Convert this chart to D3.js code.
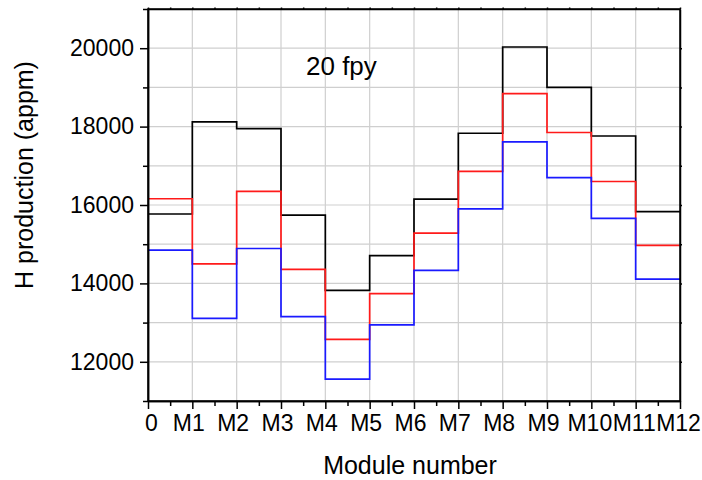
<!DOCTYPE html>
<html>
<head>
<meta charset="utf-8">
<script src="https://cdn.jsdelivr.net/npm/d3@7"></script>
<style>
  html, body { margin: 0; padding: 0; background: #fff; }
  svg { display: block; font-family: "Liberation Sans", Arial, sans-serif; }
</style>
</head>
<body>
<svg id="chart" width="702" height="480"></svg>
<script>
// Module boundaries and tick labels
const xTickLabels = ["0", "M1", "M2", "M3", "M4", "M5", "M6", "M7", "M8", "M9", "M10", "M11", "M12"];
const modules = ["M1", "M2", "M3", "M4", "M5", "M6", "M7", "M8", "M9", "M10", "M11", "M12"];

// H production (appm) per module, 20 fpy
const blackSeries = [15770, 18120, 17950, 15740, 13820, 14710, 16150, 17830, 20030, 19000, 17760, 15830];
const redSeries   = [16160, 14500, 16350, 14360, 12570, 13740, 15280, 16860, 18840, 17850, 16600, 14970];
const blueSeries  = [14850, 13110, 14890, 13150, 11560, 12940, 14330, 15900, 17610, 16700, 15660, 14110];

const yMajorTicks = [12000, 14000, 16000, 18000, 20000];
const yMinorTicks = [11000, 13000, 15000, 17000, 19000, 21000];
const yGridTicks  = [12000, 13000, 14000, 15000, 16000, 17000, 18000, 19000, 20000];

const seriesList = [
  { name: "black", values: blackSeries, color: "#000000" },
  { name: "red",   values: redSeries,   color: "#ff1a1a" },
  { name: "blue",  values: blueSeries,  color: "#1a1aff" }
];

const svg = d3.select("#chart");
const L = 148, R = 680, T = 9, B = 401;

const x = d3.scaleLinear().domain([0, 12]).range([L, R]);
const y = d3.scaleLinear().domain([11000, 21000]).range([B, T]);

// Grid
const grid = svg.append("g");
grid.selectAll("line.v").data(d3.range(1, 12)).join("line")
  .attr("x1", d => x(d)).attr("x2", d => x(d))
  .attr("y1", T).attr("y2", B)
  .attr("stroke", "#cfcfcf").attr("stroke-width", 1.2);
grid.selectAll("line.h").data(yGridTicks).join("line")
  .attr("x1", L).attr("x2", R)
  .attr("y1", d => y(d)).attr("y2", d => y(d))
  .attr("stroke", "#cfcfcf").attr("stroke-width", 1.2);

// Step lines
const line = d3.line()
  .x(d => x(d.i))
  .y(d => y(d.v))
  .curve(d3.curveStepAfter);

seriesList.forEach(s => {
  const pts = s.values.map((v, i) => ({ i, v }));
  pts.push({ i: s.values.length, v: s.values[s.values.length - 1] });
  svg.append("path")
    .datum(pts)
    .attr("d", line)
    .attr("fill", "none")
    .attr("stroke", s.color)
    .attr("stroke-width", 1.7);
});

// Frame
svg.append("rect")
  .attr("x", L).attr("y", T).attr("width", R - L).attr("height", B - T)
  .attr("fill", "none").attr("stroke", "#000").attr("stroke-width", 1.5);

// Bottom axis (major)
const xAxis = svg.append("g").attr("transform", `translate(0,${B})`)
  .call(d3.axisBottom(x).tickValues(d3.range(0, 13)).tickFormat(i => xTickLabels[i])
    .tickSize(8).tickSizeOuter(0).tickPadding(6));
xAxis.selectAll("text")
  .attr("font-size", 23).attr("fill", "#000")
  .attr("font-family", "'Liberation Sans', Arial, sans-serif")
  .attr("dx", (d) => d === 0 ? 3 : (d >= 10 ? -2 : -4));
// Bottom minor ticks
svg.append("g").attr("transform", `translate(0,${B})`)
  .call(d3.axisBottom(x).tickValues(d3.range(0.5, 12, 1)).tickFormat("").tickSize(5).tickSizeOuter(0));

// Left axis (major)
const yAxis = svg.append("g").attr("transform", `translate(${L},0)`)
  .call(d3.axisLeft(y).tickValues(yMajorTicks).tickFormat(d3.format("d"))
    .tickSize(8).tickSizeOuter(0).tickPadding(6));
yAxis.selectAll("text")
  .attr("font-size", 23).attr("fill", "#000")
  .attr("font-family", "'Liberation Sans', Arial, sans-serif");
svg.append("g").attr("transform", `translate(${L},0)`)
  .call(d3.axisLeft(y).tickValues(yMinorTicks).tickFormat("").tickSize(5).tickSizeOuter(0));

// Right axis small ticks
svg.append("g").attr("transform", `translate(${R},0)`)
  .call(d3.axisRight(y).tickValues(yGridTicks).tickFormat("").tickSize(2).tickSizeOuter(0));
// Top axis small ticks
svg.append("g").attr("transform", `translate(0,${T})`)
  .call(d3.axisTop(x).tickValues(d3.range(0, 12.5, 0.5)).tickFormat("").tickSize(1.5).tickSizeOuter(0));

svg.selectAll(".domain").attr("stroke", "#000").attr("stroke-width", 1.5);
svg.selectAll(".tick line").attr("stroke", "#000").attr("stroke-width", 1.5);

// Annotation
svg.append("text")
  .attr("x", 306).attr("y", 75)
  .attr("font-size", 26).attr("fill", "#000")
  .text("20 fpy");

// Axis titles
svg.append("text")
  .attr("x", (L + R) / 2 - 4).attr("y", 474)
  .attr("text-anchor", "middle")
  .attr("font-size", 25).attr("fill", "#000")
  .text("Module number");

svg.append("text")
  .attr("transform", `translate(33,175) rotate(-90)`)
  .attr("text-anchor", "middle")
  .attr("font-size", 25).attr("fill", "#000")
  .text("H production (appm)");
</script>
</body>
</html>
